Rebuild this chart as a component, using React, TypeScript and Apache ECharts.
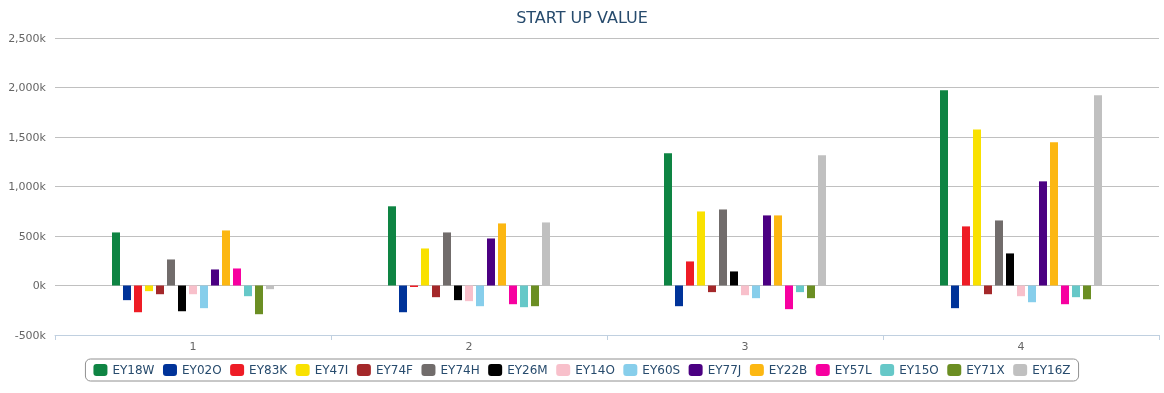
import React, { useEffect, useRef } from "react";
import * as echarts from "echarts";

const categories = ["1", "2", "3", "4"];
const seriesNames = ["EY18W", "EY02O", "EY83K", "EY47I", "EY74F", "EY74H", "EY26M", "EY14O", "EY60S", "EY77J", "EY22B", "EY57L", "EY15O", "EY71X", "EY16Z"];
const seriesColors = ["#0e8443", "#003399", "#ee1c25", "#f9e100", "#a4282a", "#716c6b", "#000000", "#f8c0cb", "#87ceeb", "#4b0082", "#fcb712", "#f700a0", "#66c8c8", "#6b8e23", "#c0c0c0"];
const EY18W = [536000, 800000, 1335000, 1972000];
const EY02O = [-148000, -270000, -209000, -229000];
const EY83K = [-270000, -15000, 243000, 597000];
const EY47I = [-57000, 374000, 748000, 1577000];
const EY74F = [-88000, -118000, -67000, -88000];
const EY74H = [263000, 536000, 768000, 657000];
const EY26M = [-260000, -148000, 142000, 324000];
const EY14O = [-88000, -158000, -98000, -108000];
const EY60S = [-229000, -209000, -128000, -169000];
const EY77J = [162000, 475000, 708000, 1052000];
const EY22B = [556000, 627000, 708000, 1446000];
const EY57L = [172000, -189000, -239000, -189000];
const EY15O = [-108000, -219000, -67000, -118000];
const EY71X = [-290000, -209000, -128000, -139000];
const EY16Z = [-37000, 637000, 1315000, 1921000];
const seriesValues = [EY18W, EY02O, EY83K, EY47I, EY74F, EY74H, EY26M, EY14O, EY60S, EY77J, EY22B, EY57L, EY15O, EY71X, EY16Z];
const yMin = -500000;
const yMax = 2500000;
const yStep = 500000;

const FONT = "'DejaVu Sans', 'Lucida Grande', sans-serif";

export default function App() {
  const ref = useRef<HTMLDivElement>(null);
  useEffect(() => {
    if (!ref.current) return;
    const chart = echarts.init(ref.current, null, { renderer: "svg" });
    chart.setOption({
      animation: false,
      title: {
        text: "START UP VALUE",
        left: "center",
        top: 4,
        textStyle: { fontFamily: FONT, fontSize: 16, fontWeight: "normal", color: "#274b6d" },
      },
      legend: {
        data: seriesNames,
        left: "center",
        top: 359,
        itemWidth: 14,
        itemHeight: 12,
        itemGap: 8.5,
        padding: [5, 8],
        borderColor: "#909090",
        borderWidth: 1,
        borderRadius: 5,
        icon: "roundRect",
        textStyle: { fontFamily: FONT, fontSize: 12, color: "#274b6d" },
      },
      grid: { left: 55, right: 5, top: 38, bottom: 58, containLabel: false },
      xAxis: {
        type: "category",
        data: categories,
        boundaryGap: true,
        axisLine: { show: true, onZero: false, lineStyle: { color: "#c0d0e0", width: 1 } },
        axisTick: { show: true, alignWithLabel: false, length: 5, lineStyle: { color: "#c0d0e0" } },
        axisLabel: { fontFamily: FONT, fontSize: 11, color: "#666666", margin: 6 },
        splitLine: { show: false },
      },
      yAxis: {
        type: "value",
        min: yMin,
        max: yMax,
        interval: yStep,
        axisLine: { show: false },
        axisTick: { show: false },
        axisLabel: {
          fontFamily: FONT,
          fontSize: 11,
          color: "#666666",
          margin: 9,
          formatter: (v: number) => (v / 1000).toLocaleString("en-US") + "k",
        },
        splitLine: { show: true, lineStyle: { color: "#c0c0c0", width: 1 } },
      },
      series: seriesNames.map((name, i) => ({
        name,
        type: "bar",
        data: seriesValues[i],
        barWidth: 8,
        barGap: "37.5%",
        itemStyle: { color: seriesColors[i] },
      })),
    });
    return () => chart.dispose();
  }, []);
  return <div ref={ref} style={{ position: "fixed", left: 0, top: 0, width: 1164, height: 393 }} />;
}
